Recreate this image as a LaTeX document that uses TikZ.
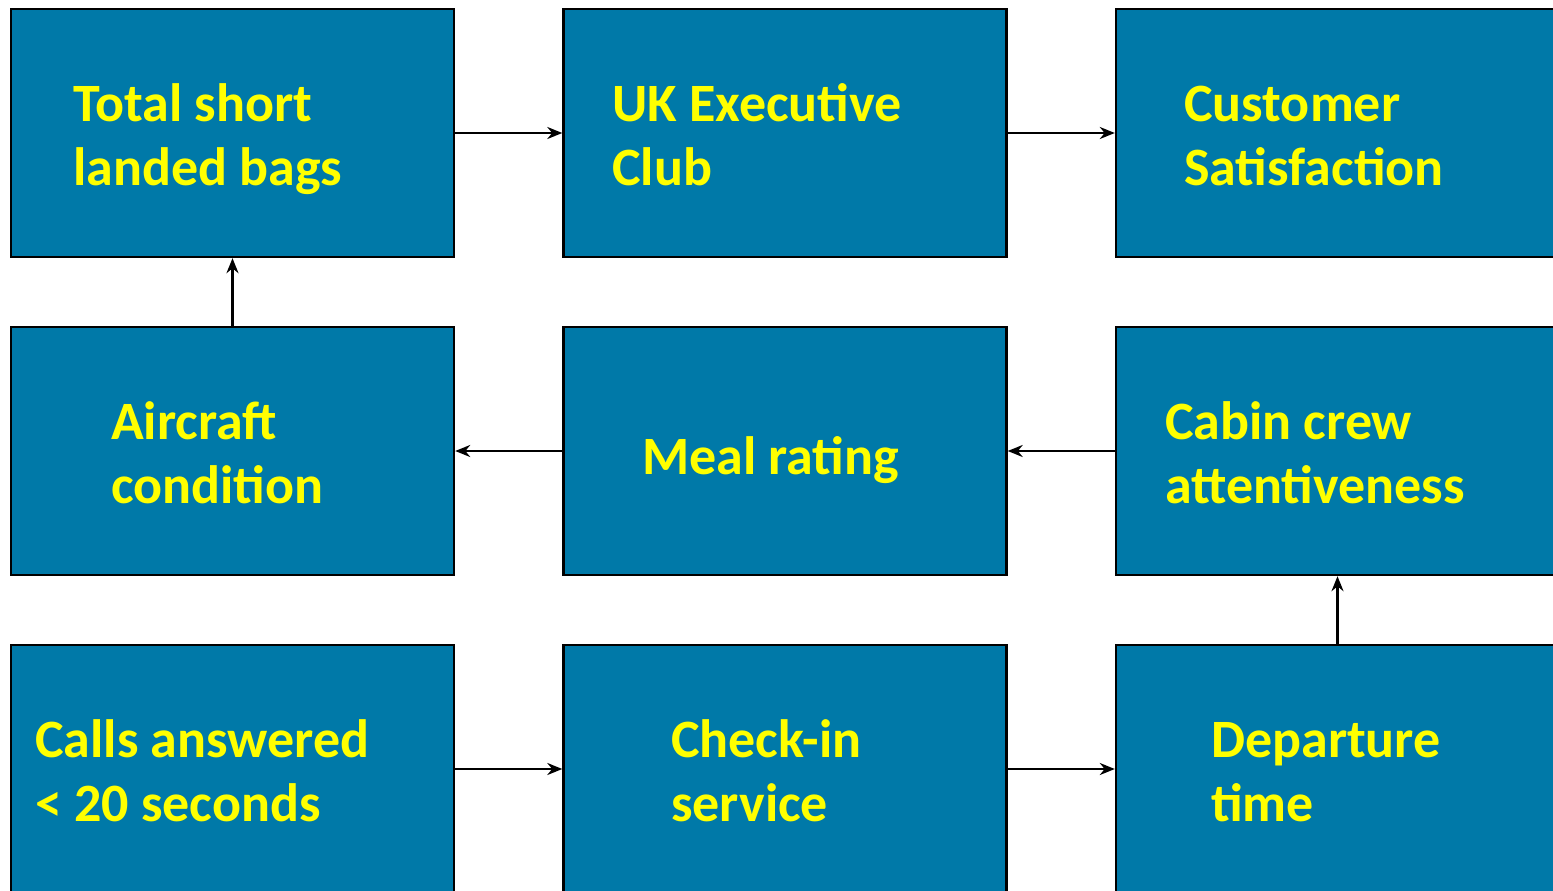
\documentclass[tikz,border=0pt]{standalone}
\usepackage{fontspec}
\setmainfont{Carlito}
\usetikzlibrary{arrows.meta}

\definecolor{kpiblue}{RGB}{0,121,168}
\definecolor{kpiyellow}{RGB}{255,255,0}

\tikzset{
  kpi/.style={draw=black, line width=2.4pt, fill=kpiblue, minimum width=443pt, minimum height=248pt, inner sep=0pt},
  kpitext/.style={anchor=base west, text=kpiyellow, align=left, inner sep=0pt,
    font=\fontsize{54}{64}\selectfont\bfseries},
  link/.style={line width=2.4pt, -{Stealth[length=15pt,width=12pt]}}
}

\begin{document}
\begin{tikzpicture}[x=1pt,y=-1pt]

   \useasboundingbox (0,0) rectangle (1553,891);
   \clip (0,0) rectangle (1553,891);

   \node (Bags) at (232.5,133) [kpi] {};
   \node (Club) at (785,133) [kpi] {};
   \node (Satisfaction) at (1337.5,133) [kpi] {};

   \node (Aircraft) at (232.5,451) [kpi] {};
   \node (Meal) at (785,451) [kpi] {};
   \node (Crew) at (1337.5,451) [kpi] {};

   \node (Calls) at (232.5,769) [kpi] {};
   \node (Checkin) at (785,769) [kpi] {};
   \node (Departure) at (1337.5,769) [kpi] {};

   % two-line labels sit on the baseline of their last line
   \node (BagsText) at (73,185) [kpitext] {Total short\\landed bags};
   \node (ClubText) at (612,185) [kpitext] {UK Executive\\Club};
   \node (SatisfactionText) at (1184,185) [kpitext] {Customer\\Satisfaction};

   \node (AircraftText) at (111,503) [kpitext] {Aircraft\\condition};
   \node (MealText) at (642,474) [kpitext] {Meal rating};
   \node (CrewText) at (1165,503) [kpitext] {Cabin crew\\attentiveness};

   \node (CallsText) at (35,821) [kpitext] {Calls answered\\< 20 seconds};
   \node (CheckinText) at (671,821) [kpitext] {Check-in\\service};
   \node (DepartureText) at (1211,821) [kpitext] {Departure\\time};

   \draw [link] (Bags.east) -- (Club.west);
   \draw [link] (Club.east) -- (Satisfaction.west);

   \draw [link] (Meal.west) -- (Aircraft.east);
   \draw [link] (Crew.west) -- (Meal.east);

   \draw [link] (Calls.east) -- (Checkin.west);
   \draw [link] (Checkin.east) -- (Departure.west);

   \draw [link] (Aircraft.north) -- (Bags.south);
   \draw [link] (Departure.north) -- (Crew.south);

\end{tikzpicture}
\end{document}
